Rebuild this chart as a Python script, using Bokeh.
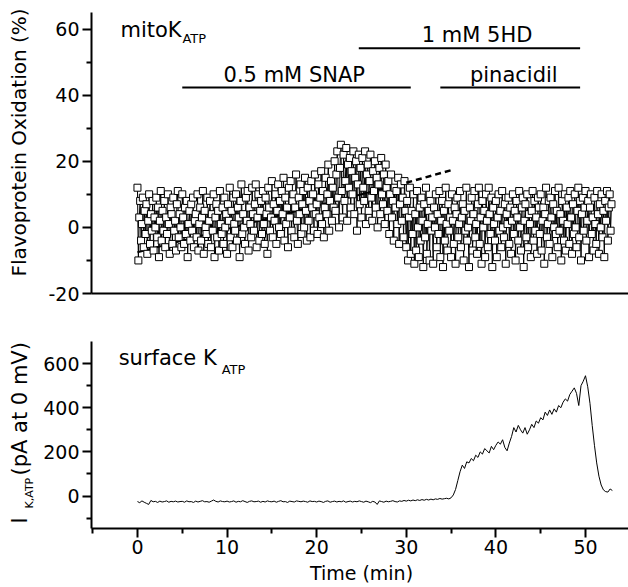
import numpy as np
from bokeh.plotting import figure
from bokeh.layouts import column, row
from bokeh.models import Range1d, FixedTicker, Label
from bokeh.embed import file_html
from bokeh.resources import INLINE

FONT = "DejaVu Sans"

# ---------------- data ----------------
# Flavoprotein oxidation (%), one sample every 0.1 min from t = 0 (one row per minute)
flavo = [
    12, -10, 3, 8, -4, 1, 9, -6, 5, -2,
    7, -8, 2, 10, -5, 4, -1, 8, -7, 3,
    0, 9, -3, 6, -9, 2, 11, -4, 5, -1,
    8, -6, 3, -2, 10, 1, -8, 6, 4, -5,
    9, -1, 2, -7, 7, 11, -3, 4, 0, -6,
    10, 3, -5, 6, -2, 8, -9, 1, 5, -4,
    7, -1, 9, -6, 2, 4, -3, 10, -7, 1,
    6, -4, 3, 11, -8, 5, 0, -2, 9, -5,
    2, 8, -6, 4, -1, 10, -9, 3, 7, -3,
    5, -7, 11, 1, -2, 6, -5, 9, 0, 4,
    -8, 7, 2, 12, -3, 5, -6, 9, 1, -1,
    10, -4, 6, 3, -9, 8, 13, -2, 4, 0,
    -5, 9, 2, 11, -7, 6, 1, -3, 12, 4,
    -1, 7, 13, -6, 3, 10, -4, 5, 8, -2,
    11, 1, -5, 9, 4, -8, 12, 6, -1, 3,
    14, -3, 7, 2, 10, -5, 5, 13, 0, 8,
    -2, 11, 4, 15, -4, 9, 1, 6, -6, 12,
    3, 14, -1, 8, 10, -3, 6, 16, 2, -5,
    9, 4, 13, -2, 7, 11, 0, 15, 5, -4,
    12, 2, 8, -3, 14, 6, 10, -1, 16, 4,
    7, -2, 13, 3, 9, 17, 1, 11, -3, 6,
    15, 4, 10, 19, -1, 8, 14, 2, 12, 6,
    20, 5, 16, 23, 9, 0, 18, 25, 11, 3,
    22, 8, 14, 24, 2, 19, 12, 21, 6, 17,
    10, 23, 4, 15, 20, -1, 13, 22, 7, 18,
    3, 21, 12, 8, 23, 1, 16, 19, 5, 14,
    22, 9, 2, 17, 11, 20, 6, 15, 0, 13,
    18, 4, 21, 10, 7, 16, 1, 19, 12, 5,
    14, -2, 10, 16, 3, 8, -4, 12, 6, 11,
    1, 15, -5, 7, 13, 2, 9, -3, 14, 5,
    -6, 8, -10, 3, 12, -8, 5, -2, 10, -11,
    4, -7, 11, 0, -9, 6, -4, 9, 2, -12,
    7, -3, 12, -8, 1, 5, -10, 8, -1, 3,
    -11, 6, 0, 10, -6, 4, -2, 11, -9, 2,
    8, -12, 5, -4, 12, 1, -7, 7, -1, 3,
    -9, 10, 2, -5, 6, -11, 4, 9, -3, 1,
    11, -6, 3, 7, -10, 5, -1, 12, -4, 0,
    -12, 6, 2, 9, -7, 4, 11, -3, 1, -8,
    7, 12, -5, 3, -11, 8, 0, 5, -9, 10,
    2, -6, 12, 4, -2, 9, -12, 6, 1, -4,
    8, -9, 3, 10, -1, 5, -6, 11, 0, -3,
    7, -11, 4, 1, 9, -5, 6, -8, 2, 10,
    -2, 5, -10, 8, 3, -4, 11, 0, -7, 6,
    9, -12, 2, 7, -3, 10, -6, 4, 1, -9,
    5, 11, -4, 8, -1, 3, -8, 9, 6, -2,
    10, -7, 2, 6, -11, 4, 12, -3, 1, 8,
    -5, 9, 3, -9, 7, 0, 11, -2, 5, -6,
    12, -1, 4, -10, 8, 2, -4, 10, -7, 6,
    1, 9, -5, 11, 3, -8, 7, -2, 10, 0,
    -6, 5, 12, -3, 8, -10, 4, 9, -1, 6,
    11, -4, 2, 8, -9, 6, 10, -2, 3, -7,
    9, 1, -5, 11, 4, -8, 7, 0, 10, -3,
    5, -9, 8, 2, 11, -4, 6, 10, -1, 7,
]
t_flavo = np.arange(len(flavo)) * 0.1

# I K,ATP (pA at 0 mV), one sample every 0.25 min from t = 0
ik = [
    -25, -30, -22, -28, -33, -38, -20, -26, -24, -29, -23, -27, -25, -22, -28, -24, -26, -23, -27, -25,
    -24, -28, -22, -26, -25, -29, -23, -27, -24, -21, -26, -25, -28, -23, -18, -24, -27, -22, -25, -26,
    -23, -27, -25, -22, -28, -24, -26, -21, -25, -29, -24, -22, -26, -25, -23, -28, -24, -27, -22, -25,
    -26, -23, -28, -24, -21, -26, -25, -29, -23, -25, -27, -22, -24, -26, -23, -25, -28, -22, -25, -24,
    -27, -23, -25, -29, -24, -22, -28, -25, -23, -27, -24, -26, -22, -28, -25, -23, -27, -24, -26, -22,
    -25, -28, -23, -26, -30, -24, -27, -38, -22, -25, -28, -23, -26, -24, -21, -25, -27, -22, -24, -20,
    -23, -19, -22, -18, -21, -17, -20, -16, -19, -15, -18, -14, -17, -13, -15, -11, -14, -12, -10, -13,
    -8, 5, 30, 70, 110, 140, 125, 155, 150, 170, 160, 185, 175, 200, 190, 215, 205, 195, 225, 210,
    230, 245, 235, 255, 220, 205, 240, 270, 310, 290, 320, 300, 285, 310, 280, 300, 325, 310, 340, 330,
    355, 345, 380, 365, 390, 370, 395, 380, 410, 400, 425, 440, 430, 460, 475, 490, 465, 410, 500, 520,
    545, 495, 420, 320, 230, 150, 90, 50, 28, 20, 18, 32, 25,
]
t_ik = np.arange(len(ik)) * 0.25

# SNAP-period trend line and its extrapolation
trend_x = [0, 30]
trend_y = [-7.5, 13.5]
extrap_x = [30, 35]
extrap_y = [13.5, 17.3]

# drug application bars
bar_labels = ["1 mM 5HD", "0.5 mM SNAP", "pinacidil"]
bar_start = [24.7, 5.0, 33.8]
bar_end = [49.4, 30.5, 49.4]
bar_level = [54.2, 42.3, 42.3]
bar_text_x = [37.9, 17.5, 42.0]
bar_text_y = [58.1, 46.0, 46.0]

x_ticks = [0, 10, 20, 30, 40, 50]
x_minor = [-5, 5, 15, 25, 35, 45]
top_ticks = [-20, 0, 20, 40, 60]
top_minor = [-10, 10, 30, 50]
bot_ticks = [0, 200, 400, 600]
bot_minor = [-100, 100, 300, 500]

X0, X1 = -5.13, 54.8


def style_axes(p):
    p.outline_line_color = None
    p.grid.visible = False
    for ax in p.xaxis + p.yaxis:
        ax.axis_line_width = 2
        ax.axis_line_color = "black"
        ax.major_tick_line_width = 2
        ax.minor_tick_line_width = 2
        ax.major_tick_in = 0
        ax.minor_tick_in = 0
        ax.major_tick_out = 9
        ax.minor_tick_out = 5
        ax.major_label_text_font = FONT
        ax.major_label_text_font_size = "19px"
        ax.major_label_text_color = "black"
        ax.major_label_standoff = 3


def add_text(p, x, y, text, size, **kw):
    p.add_layout(Label(x=x, y=y, text=text, text_font=FONT, text_font_size=size,
                       text_baseline="middle", text_color="black", **kw))


# ---------------- top panel ----------------
top = figure(width=591, height=305, x_range=Range1d(X0, X1), y_range=Range1d(-20, 65),
             output_backend="svg", toolbar_location=None,
             min_border_left=54, min_border_right=0, min_border_top=12, min_border_bottom=12)
style_axes(top)
top.xaxis.ticker = FixedTicker(ticks=[])
top.xaxis.major_tick_out = 0
top.xaxis.minor_tick_out = 0
top.xaxis.major_label_standoff = 0
top.yaxis.ticker = FixedTicker(ticks=top_ticks, minor_ticks=top_minor)
top.yaxis.major_label_overrides = {-20: "-20"}

top.line(trend_x, trend_y, line_color="black", line_width=2)
top.line(t_flavo, flavo, line_color="black", line_width=1)
top.scatter(t_flavo, flavo, marker="square", size=7, fill_color="white",
            line_color="black", line_width=1)
top.line(extrap_x, extrap_y, line_color="black", line_width=2.5, line_dash="6 4")

top.segment(x0=bar_start, y0=bar_level, x1=bar_end, y1=bar_level,
            line_color="black", line_width=2)
for txt, tx, ty in zip(bar_labels, bar_text_x, bar_text_y):
    add_text(top, tx, ty, txt, "21px", text_align="center")

add_text(top, -1.9, 59.6, "mitoK", "21px")
add_text(top, -1.9, 57.0, "ATP", "13px", x_offset=62)

# ---------------- bottom panel ----------------
bot = figure(width=591, height=256, x_range=Range1d(X0, X1), y_range=Range1d(-147, 700),
             output_backend="svg", toolbar_location=None,
             min_border_left=54, min_border_right=0, min_border_top=36, min_border_bottom=33)
style_axes(bot)
bot.xaxis.ticker = FixedTicker(ticks=x_ticks, minor_ticks=x_minor)
bot.xaxis.major_label_standoff = 2
bot.yaxis.ticker = FixedTicker(ticks=bot_ticks, minor_ticks=bot_minor)

bot.line(t_ik, ik, line_color="black", line_width=1)

add_text(bot, -2.1, 624, "surface K", "21px")
add_text(bot, -2.1, 575, "ATP", "13px", x_offset=103)

# ---------------- x-axis title strip ----------------
xlab = figure(width=591, height=25, x_range=Range1d(X0, X1), y_range=Range1d(0, 25),
              output_backend="svg", toolbar_location=None,
              x_axis_location=None, y_axis_location=None,
              min_border_left=54, min_border_right=0, min_border_top=0, min_border_bottom=0)
xlab.outline_line_color = None
xlab.grid.visible = False
add_text(xlab, 25.0, 13.5, "Time (min)", "19px", y_units="screen", text_align="center")

# ---------------- y-axis title strip ----------------
ylab = figure(width=37, height=586, x_range=Range1d(0, 37), y_range=Range1d(0, 586),
              output_backend="svg", toolbar_location=None,
              x_axis_location=None, y_axis_location=None, min_border=0)
ylab.outline_line_color = None
ylab.grid.visible = False
add_text(ylab, 18.1, 444, "Flavoprotein Oxidation (%)", "20px",
         angle=np.pi / 2, text_align="center")
add_text(ylab, 19.7, 63, "I", "21px", angle=np.pi / 2, text_align="left")
add_text(ylab, 29.2, 78, "K,ATP", "11px", angle=np.pi / 2, text_align="left")
add_text(ylab, 19.7, 111, "(pA at 0 mV)", "21px", angle=np.pi / 2, text_align="left")

layout = row(ylab, column(top, bot, xlab))
open("out.html", "w").write(file_html(layout, INLINE))
